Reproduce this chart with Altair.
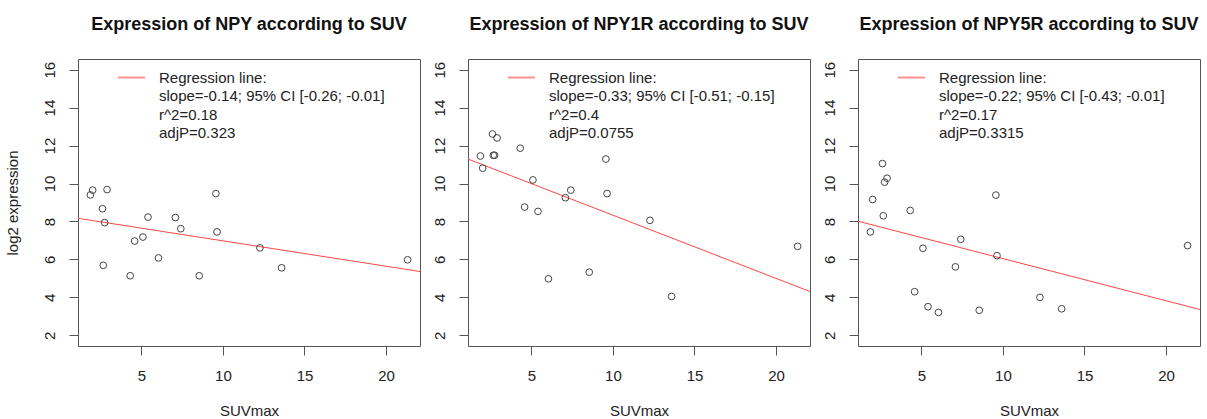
import altair as alt
import pandas as pd

# ---- data ----
suv = [1.88, 2.02, 2.62, 2.67, 2.75, 2.90, 4.32, 4.59, 5.10, 5.41,
       6.05, 7.09, 7.42, 8.55, 9.57, 9.64, 12.27, 13.60, 21.32]
npy = [9.40, 9.65, 8.67, 5.69, 7.94, 9.68, 5.14, 6.97, 7.18, 8.23,
       6.08, 8.21, 7.62, 5.14, 9.47, 7.45, 6.61, 5.56, 5.98]
npy1r = [11.45, 10.81, 12.61, 11.49, 11.49, 12.40, 11.86, 8.76, 10.19, 8.53,
         4.98, 9.25, 9.65, 5.33, 11.29, 9.47, 8.06, 4.05, 6.69]
npy5r = [7.45, 9.16, 11.05, 8.30, 10.07, 10.28, 8.58, 4.30, 6.59, 3.51,
         3.21, 5.61, 7.06, 3.32, 9.39, 6.20, 4.00, 3.40, 6.73]

genes = ["NPY", "NPY1R", "NPY5R"]
slope_txt = ["slope=-0.14; 95% CI [-0.26; -0.01]",
             "slope=-0.33; 95% CI [-0.51; -0.15]",
             "slope=-0.22; 95% CI [-0.43; -0.01]"]
r2_txt = ["r^2=0.18", "r^2=0.4", "r^2=0.17"]
adjp_txt = ["adjP=0.323", "adjP=0.0755", "adjP=0.3315"]

x_ticks = [5, 10, 15, 20]
y_ticks = [2, 4, 6, 8, 10, 12, 14, 16]
X_MIN, X_MAX = 1.12, 22.08
Y_MIN, Y_MAX = 1.44, 16.56

FONT = "Liberation Sans"
W, H = 342, 287


def panel(gene, values, i):
    df = pd.DataFrame({"SUVmax": suv, "expr": values})
    one = pd.DataFrame({"k": [0]})
    xs = alt.Scale(domain=[X_MIN, X_MAX], nice=False, zero=False)
    ys = alt.Scale(domain=[Y_MIN, Y_MAX], nice=False, zero=False)
    yaxis = alt.Axis(values=y_ticks, labelAngle=270, labelAlign="center",
                     labelBaseline="bottom", labelPadding=11.5,
                     titlePadding=21.7)
    xaxis = alt.Axis(values=x_ticks, labelPadding=13, titlePadding=20)
    xenc = alt.X("SUVmax:Q", scale=xs, axis=xaxis, title="SUVmax")
    if i == 0:
        yenc = alt.Y("expr:Q", scale=ys, axis=yaxis, title="log2 expression")
    else:
        yenc = alt.Y("expr:Q", scale=ys, axis=yaxis, title=None)
    base = alt.Chart(df)
    pts = base.mark_point(shape="circle", filled=False, size=45,
                          color="#444444", strokeWidth=1, opacity=1).encode(x=xenc, y=yenc)
    reg = base.transform_regression("SUVmax", "expr", extent=[X_MIN, X_MAX]).mark_line(
        color="#ff4545", strokeWidth=1, clip=True).encode(x=xenc, y=yenc)
    leg_line = alt.Chart(one).mark_rule(color="#ff9090", strokeWidth=2).encode(
        x=alt.value(40), x2=alt.value(67), y=alt.value(18.5))
    leg_text = alt.Chart(one).mark_text(
        align="left", baseline="middle", fontSize=15, font=FONT,
        color="#222222", lineBreak="\n", lineHeight=18.5).encode(
        x=alt.value(81), y=alt.value(18.5),
        text=alt.value("Regression line:\n" + slope_txt[i] + "\n" + r2_txt[i] + "\n" + adjp_txt[i]))
    return alt.layer(reg, pts, leg_line, leg_text).properties(
        width=W, height=H,
        title=alt.TitleParams(f"Expression of {gene} according to SUV", fontSize=18,
                              fontWeight="bold", font=FONT, color="#111111",
                              anchor="middle", frame="group", offset=24.8))


panels = [panel(g, v, i) for i, (g, v) in enumerate(zip(genes, [npy, npy1r, npy5r]))]

chart = alt.hconcat(*panels, spacing=48, bounds="flush").properties(
    padding={"left": 5, "top": 15, "right": 0, "bottom": 0},
    background="white"
).configure_view(stroke="#555555", strokeWidth=1).configure_axis(
    domain=False, grid=False, tickColor="#555555", tickSize=9, tickWidth=1,
    labelFont=FONT, labelFontSize=15, labelColor="#222222",
    titleFont=FONT, titleFontSize=15, titleFontWeight="normal", titleColor="#222222"
)

chart.save("out.html", embed_options={"renderer": "svg", "actions": False})
